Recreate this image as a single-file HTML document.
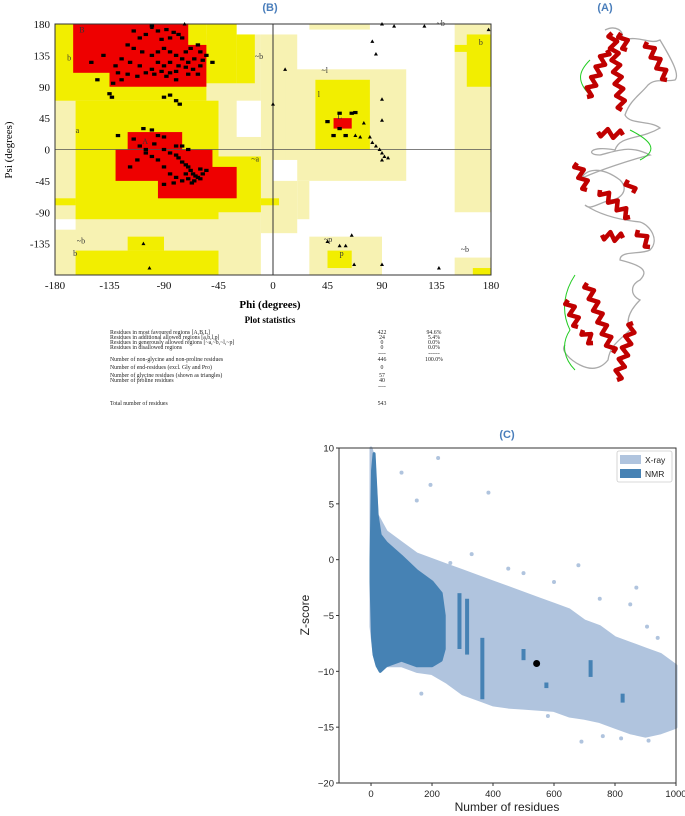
<!DOCTYPE html>
<html><head><meta charset="utf-8"><style>
html,body{margin:0;padding:0;background:#fff;}
body{width:685px;height:816px;position:relative;overflow:hidden;font-family:"Liberation Sans",sans-serif;}
svg{position:absolute;left:0;top:0;}
</style></head><body>
<svg id="fig" width="685" height="816" viewBox="0 0 685 816" xmlns="http://www.w3.org/2000/svg">
  <text x="270" y="11" font-size="11" font-weight="bold" fill="#4a7ebb" text-anchor="middle">(B)</text>
  <text x="605" y="11" font-size="11" font-weight="bold" fill="#4a7ebb" text-anchor="middle">(A)</text>
  <text x="507" y="438" font-size="11" font-weight="bold" fill="#4a7ebb" text-anchor="middle">(C)</text>
  <g id="rama"></g>
  <g id="protein"></g>
  <g id="zplot"></g>
</svg>
<script>
// ---------- Ramachandran data ----------
const phiTicks = [-180,-135,-90,-45,0,45,90,135,180];
const psiTicks = [180,135,90,45,0,-45,-90,-135];
const paleRegions = [[-180,-10,-180,165],[-10,20,-120,165],[20,30,-100,-45],[10,110,-45,115],[30,80,172,180],[30,90,-180,-125],[150,180,-90,180],[150,180,-180,-155]];
const whiteRegions = [[-30,-10,18,70],[-180,-163,-115,-100],[0,20,-45,-15]];
const yellowRegions = [[-180,-55,70,180],[-55,-30,95,180],[-30,-15,95,165],[-163,-45,-100,70],[-45,-10,-90,-10],[-10,5,-80,-70],[-180,-163,-80,-70],[-163,-45,-180,-145],[-120,-90,-145,-125],[35,80,0,100],[45,65,-170,-145],[160,180,90,165],[150,165,140,150],[165,180,-180,-170]];
const redRegions = [[-165,-70,110,180],[-135,-55,90,150],[-120,-75,-30,25],[-130,-50,-45,0],[-95,-30,-70,-25],[50,65,30,45]];
const sqPhi = [-100,-95,-88,-82,-78,-75,-85,-92,-105,-110,-120,-115,-108,-100,-95,-90,-85,-80,-75,-70,-65,-60,-62,-68,-72,-78,-85,-90,-95,-100,-110,-118,-125,-130,-128,-120,-112,-105,-98,-92,-85,-80,-72,-66,-60,-58,-55,-50,-62,-70,-80,-88,-125,-132,-145,-135,-133,-90,-85,-80,-77,-150,-140,-115,
 -107,-100,-95,-90,-115,-110,-105,-98,-90,-85,-80,-78,-75,-72,-70,-68,-66,-64,-62,-60,-65,-70,-72,-58,-55,-60,-67,-75,-80,-85,-90,-95,-100,-105,-112,-118,-90,-82,-128,-75,-70,-80,
 55,65,68,45,55,50,60];
const sqPsi = [177,170,172,168,165,160,160,158,165,160,150,145,140,135,140,145,140,135,130,125,130,140,150,145,140,120,125,120,125,115,120,125,130,120,110,108,105,110,108,112,110,112,118,115,120,128,135,125,108,108,100,105,100,95,100,80,75,75,78,70,65,125,135,170,
 30,28,20,18,15,5,0,8,0,-5,-8,-12,-18,-22,-25,-30,-35,-38,-40,-42,-45,-42,-35,-35,-30,-28,-48,-45,-40,-35,-25,-15,-10,-5,-15,-25,-50,-48,20,5,0,5,
 52,52,53,40,30,20,20];
const triPhi = [-73,-100,-107,-102,10,0,90,100,125,82,85,178,90,90,75,72,68,80,82,85,88,90,92,95,90,45,55,60,65,67,90,137];
const triPsi = [180,175,-135,-170,115,65,180,177,177,155,137,172,72,42,38,18,20,18,10,5,0,-5,-10,-12,-15,-132,-138,-138,-123,-165,-165,-170];
const regionLabels = [["B",-160,168],["b",-170,128],["a",-163,24],["A",-108,8],["b",-165,-153],["~b",-162,-135],["~b",-15,130],["~a",-18,-17],["~l",40,110],["l",37,75],["L",53,44],["~p",42,-133],["p",55,-153],["~b",135,177],["b",170,150],["~b",155,-147]];
const statLabels = ["Residues in most favoured regions  [A,B,L]","Residues in additional allowed regions  [a,b,l,p]","Residues in generously allowed regions  [~a,~b,~l,~p]","Residues in disallowed regions","","Number of non-glycine and non-proline residues","Number of end-residues (excl. Gly and Pro)","Number of glycine residues (shown as triangles)","Number of proline residues","","Total number of residues"];
const statCounts = ["422","24","0","0","----","446","0","57","40","----","543"];
const statPct = ["94.6%","5.4%","0.0%","0.0%","------","100.0%","","","","",""];

// ---------- Z-score data ----------
const xrayN = [0,10,20,50,100,150,200,250,300,350,400,450,500,550,600,650,700,750,800,850,900,950,1000];
const xrayUpper = [10,9,4,2.5,1.5,0.5,0,-0.5,-1,-1.5,-2,-2.5,-3,-3.5,-4,-4.5,-5.5,-6,-7,-7.5,-8,-8.5,-9.5];
const xrayLower = [-6,-8.5,-9.5,-9.5,-9.5,-10,-10.2,-11,-12,-12.5,-13,-13.2,-13.3,-13.4,-13.5,-14,-14.2,-14.5,-15,-15.5,-15.8,-15.5,-15];
const nmrN = [0,5,10,20,30,50,100,150,200,230,240];
const nmrUpper = [0,8,9.5,4,2.2,1.5,0.3,-1,-2,-3,-5];
const nmrLower = [-2,-7,-8.5,-9.5,-10,-9.5,-9,-9.5,-9.5,-9,-8];
const streakN = [290,315,365,500,575,720,825];
const streakTop = [-3,-3.5,-7,-8,-11,-9,-12];
const streakBot = [-8,-8.5,-12.5,-9,-11.5,-10.5,-12.8];
const outN = [220,100,195,150,165,385,680,545,300,870,905,940,820,760,690,700,640,580,450,500,600,750,850,960,910,330,260];
const outZ = [9.1,7.8,6.7,5.3,-12,6,-0.5,-4,-1.5,-2.5,-6,-7,-16,-15.8,-16.3,-12.5,-13.5,-14,-0.8,-1.2,-2,-3.5,-4,-10,-16.2,0.5,-0.3];
const zTicks = [10,5,0,-5,-10,-15,-20];
const nTicks = [0,200,400,600,800,1000];
const targetN = [543];
const targetZ = [-9.3];

const NS = "http://www.w3.org/2000/svg";
function mk(tag, attrs, parent){const e=document.createElementNS(NS,tag);for(const k in attrs)e.setAttribute(k,attrs[k]);parent.appendChild(e);return e;}

// ---------- Ramachandran ----------
(function(){
  const g=document.getElementById('rama');
  const X0=55,X1=491,Y0=24,Y1=275;
  const px=p=>X0+(p+180)*(X1-X0)/360;
  const py=s=>Y0+(180-s)*(Y1-Y0)/360;
  function rects(list,color,name){
    list.forEach(r=>{
      const e=mk('rect',{x:px(r[0]),y:py(r[3]),width:px(r[1])-px(r[0]),height:py(r[2])-py(r[3]),fill:color},g);
      
      
    });
  }
  rects(paleRegions,'#f7f2b2','generously-allowed-region');
  rects(whiteRegions,'#ffffff','disallowed-region');
  rects(yellowRegions,'#f2ee00','allowed-region');
  rects(redRegions,'#ee0000','favoured-region');
  regionLabels.forEach(l=>{
    const t=mk('text',{x:px(l[1]),y:py(l[2]),'font-size':8,'font-family':'Liberation Serif,serif',fill:'#333'},g);
    t.textContent=l[0];
    
    
  });
  let e=mk('line',{x1:px(0),x2:px(0),y1:Y0,y2:Y1,stroke:'#333','stroke-width':1},g);
   
  e=mk('line',{x1:X0,x2:X1,y1:py(0),y2:py(0),stroke:'#555','stroke-width':0.8},g);
   
  e=mk('rect',{x:X0,y:Y0,width:X1-X0,height:Y1-Y0,fill:'none',stroke:'#333','stroke-width':1},g);
   
  sqPhi.forEach((p,i)=>{
    const r=mk('rect',{x:px(p)-2.2,y:py(sqPsi[i])-1.6,width:4.4,height:3.2,fill:'#000'},g);
    
    
  });
  triPhi.forEach((p,i)=>{
    const x=px(p),y=py(triPsi[i]);
    const t=mk('polygon',{points:`${x-2},${y+1.5} ${x+2},${y+1.5} ${x},${y-2}`,fill:'#000'},g);
    
    
  });
  phiTicks.forEach(v=>{
    const t=mk('text',{x:px(v),y:289,'font-size':11,'font-family':'Liberation Serif,serif','text-anchor':'middle',fill:'#111'},g);
    t.textContent=v;
     
  });
  psiTicks.forEach(v=>{
    const t=mk('text',{x:50,y:py(v)+4,'font-size':11,'font-family':'Liberation Serif,serif','text-anchor':'end',fill:'#111'},g);
    t.textContent=v;
     
  });
  let t=mk('text',{x:270,y:308,'font-size':11,'font-weight':'bold','font-family':'Liberation Serif,serif','text-anchor':'middle'},g);
  t.textContent='Phi (degrees)';  
  t=mk('text',{x:0,y:0,'font-size':11,'font-family':'Liberation Serif,serif','text-anchor':'middle',transform:'translate(12,150) rotate(-90)'},g);
  t.textContent='Psi (degrees)';  
  t=mk('text',{x:270,y:323,'font-size':9,'font-weight':'bold','font-family':'Liberation Serif,serif','text-anchor':'middle'},g);
  t.textContent='Plot statistics';  
  const ys=[332,337,342,347,353,359,367,375,380,386,403];
  statLabels.forEach((s,i)=>{
    if(s){const a=mk('text',{x:110,y:ys[i]+2,'font-size':5.8,'font-family':'Liberation Serif,serif',fill:'#222'},g);a.textContent=s;
       }
    const b=mk('text',{x:382,y:ys[i]+2,'font-size':5.8,'font-family':'Liberation Serif,serif','text-anchor':'middle',fill:'#222'},g);b.textContent=statCounts[i];
     
    if(statPct[i]){const c=mk('text',{x:434,y:ys[i]+2,'font-size':5.8,'font-family':'Liberation Serif,serif','text-anchor':'middle',fill:'#222'},g);c.textContent=statPct[i];
       }
  });
})();

// ---------- Protein cartoon ----------
(function(){
  const g=document.getElementById('protein');
  const coil="M605,30 C615,25 625,30 622,40 C640,35 650,45 660,40 C672,60 680,75 675,80 C665,82 655,78 648,85 C640,95 630,100 625,115 C630,125 650,120 660,128 C640,140 620,135 615,150 C590,145 585,155 600,155 C620,150 630,145 650,155 C630,160 600,170 582,178 C585,170 600,165 620,180 C630,190 620,200 610,200 C595,205 590,210 585,205 C600,215 620,220 640,222 C650,225 660,240 650,250 C640,255 620,250 620,260 C640,265 650,270 640,280 C630,285 630,295 640,300 C630,310 625,320 630,330 C620,340 610,345 608,360 C600,370 590,370 580,365 C570,360 560,350 565,345";
  let p=mk('path',{d:coil,fill:'none',stroke:'#aaa','stroke-width':1.3},g);
   
  const coil2="M590,60 C580,70 575,80 590,95 M630,130 C650,140 660,150 640,160 M575,275 C565,290 560,310 570,330 C560,345 565,360 575,370";
  p=mk('path',{d:coil2,fill:'none',stroke:'#2c2','stroke-width':1},g);
   
  const helices=[[612,33,622,110],[587,97,607,50],[647,42,667,80],[621,33,627,50],[598,132,623,135],[577,163,587,190],[600,190,630,217],[628,180,633,193],[602,235,623,238],[638,230,650,247],[587,283,613,353],[568,300,578,327],[583,330,593,343],[633,323,617,380]];
  helices.forEach(h=>{
    const [x1,y1,x2,y2]=h; const dx=x2-x1,dy=y2-y1,L=Math.hypot(dx,dy),nx=-dy/L,ny=dx/L;
    const n=Math.max(2,Math.round(L/6)); let d=`M${x1},${y1}`;
    for(let i=1;i<=n;i++){const f=(i-0.5)/n,s=(i%2?1:-1)*4;d+=` L${x1+dx*f+nx*s},${y1+dy*f+ny*s}`;}
    d+=` L${x2},${y2}`;
    const e=mk('path',{d:d,fill:'none',stroke:'#c00000','stroke-width':4.5,'stroke-linejoin':'round'},g);
     
  });
})();

// ---------- Z-score plot ----------
(function(){
  const g=document.getElementById('zplot');
  const X0=339,X1=676,Y0=448,Y1=783,NMIN=-105,NMAX=1000,ZMAX=10,ZMIN=-20;
  const px=n=>X0+(n-NMIN)*(X1-X0)/(NMAX-NMIN);
  const py=z=>Y0+(ZMAX-z)*(Y1-Y0)/(ZMAX-ZMIN);
  function env(ns,up,lo,color,name){
    let pts=ns.map((n,i)=>`${px(n)},${py(up[i])}`);
    for(let i=ns.length-1;i>=0;i--)pts.push(`${px(ns[i])},${py(lo[i])}`);
    const e=mk('polygon',{points:pts.join(' '),fill:color,stroke:color,'stroke-width':3,'stroke-linejoin':'round'},g);
     
  }
  env(xrayN,xrayUpper,xrayLower,'#b0c4de','xray-cloud');
  outN.forEach((n,i)=>{
    const c=mk('circle',{cx:px(n),cy:py(outZ[i]),r:2,fill:'#b0c4de'},g);
     
  });
  env(nmrN,nmrUpper,nmrLower,'#4682b4','nmr-cloud');
  streakN.forEach((n,i)=>{
    const r=mk('rect',{x:px(n)-2,y:py(streakTop[i]),width:4,height:py(streakBot[i])-py(streakTop[i]),fill:'#4682b4'},g);
     
  });
  targetN.forEach((n,i)=>{
    const c=mk('circle',{cx:px(n),cy:py(targetZ[i]),r:3.5,fill:'#000'},g);
     
  });
  let e=mk('rect',{x:X0,y:Y0,width:X1-X0,height:Y1-Y0,fill:'none',stroke:'#333','stroke-width':1},g);
   
  zTicks.forEach(z=>{
    const l=mk('line',{x1:X0-3,x2:X0,y1:py(z),y2:py(z),stroke:'#333'},g);
     
    const t=mk('text',{x:X0-5,y:py(z)+3.5,'font-size':9.5,'text-anchor':'end',fill:'#222'},g);
    t.textContent=z<0?'\u2212'+(-z):z;
     
  });
  nTicks.forEach(n=>{
    const l=mk('line',{x1:px(n),x2:px(n),y1:Y1,y2:Y1+3,stroke:'#333'},g);
     
    const t=mk('text',{x:px(n),y:Y1+14,'font-size':9.5,'text-anchor':'middle',fill:'#222'},g);
    t.textContent=n;
     
  });
  let t=mk('text',{x:507,y:811,'font-size':12,'text-anchor':'middle',fill:'#222'},g);
  t.textContent='Number of residues';  
  t=mk('text',{x:0,y:0,'font-size':12,'text-anchor':'middle',fill:'#222',transform:'translate(309,615) rotate(-90)'},g);
  t.textContent='Z-score';  
  const lg=mk('g',{},g);  
  mk('rect',{x:617,y:451,width:55,height:31,fill:'#fff',stroke:'#ccc','stroke-width':0.8,rx:2},lg);
  mk('rect',{x:620,y:455,width:21,height:9,fill:'#b0c4de'},lg);
  mk('rect',{x:620,y:469,width:21,height:9,fill:'#4682b4'},lg);
  t=mk('text',{x:645,y:463,'font-size':8.5,fill:'#222'},lg); t.textContent='X-ray';
   
  t=mk('text',{x:645,y:477,'font-size':8.5,fill:'#222'},lg); t.textContent='NMR';
   
})();
</script>
</body></html>
